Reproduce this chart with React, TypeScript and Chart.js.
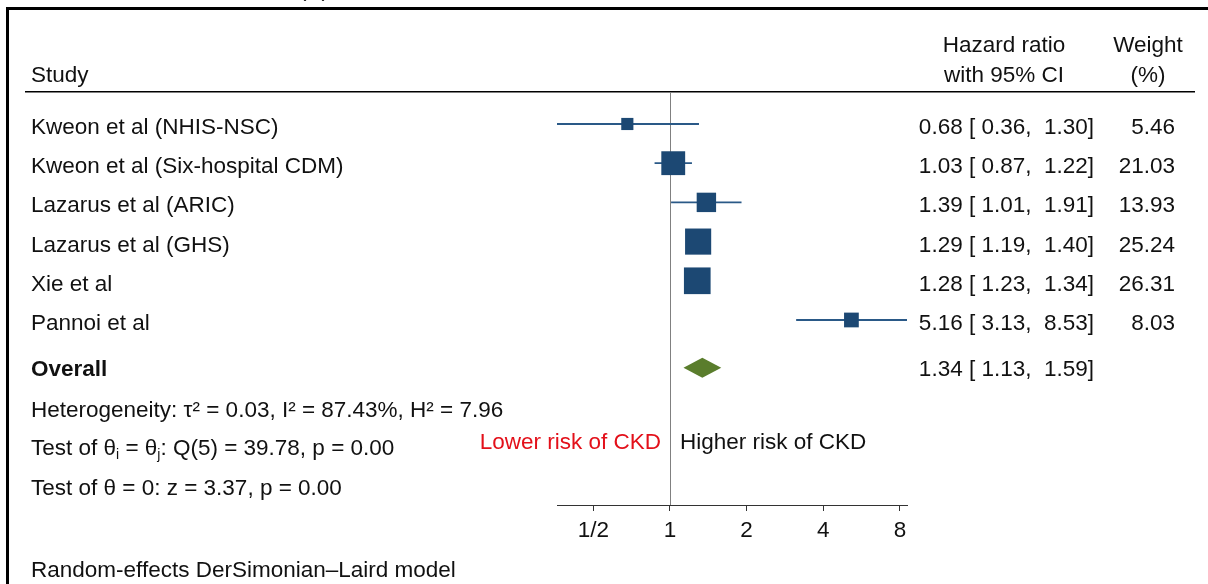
import React, { useEffect, useRef } from "react";
import { Chart, registerables } from "chart.js";

Chart.register(...registerables);

const studies = [
  "Kweon et al (NHIS-NSC)",
  "Kweon et al (Six-hospital CDM)",
  "Lazarus et al (ARIC)",
  "Lazarus et al (GHS)",
  "Xie et al",
  "Pannoi et al",
];
const hazardRatios = [0.68, 1.03, 1.39, 1.29, 1.28, 5.16];
const ciLow = [0.36, 0.87, 1.01, 1.19, 1.23, 3.13];
const ciHigh = [1.3, 1.22, 1.91, 1.4, 1.34, 8.53];
const weights = [5.46, 21.03, 13.93, 25.24, 26.31, 8.03];
const overallHR = 1.34;
const overallLow = 1.13;
const overallHigh = 1.59;
const tickValues = [0.5, 1, 2, 4, 8];
const tickLabels = ["1/2", "1", "2", "4", "8"];
const heterogeneityText = "Heterogeneity: τ² = 0.03, I² = 87.43%, H² = 7.96";
const testThetaText = ": Q(5) = 39.78, p = 0.00";
const testZeroText = "Test of θ = 0: z = 3.37, p = 0.00";
const modelText = "Random-effects DerSimonian–Laird model";

const FAMILY = '"Liberation Sans", Arial, Helvetica, sans-serif';
const FS = 22.5;
const FONT = `${FS}px ${FAMILY}`;
const BOLD = `bold ${FS}px ${FAMILY}`;
const SQUARE_COLOR = "#1c4873";
const LINE_COLOR = "#2a5987";
const DIAMOND_COLOR = "#5a7d2c";
const TEXT_COLOR = "#111111";

const fmt = (v: number) => v.toFixed(2);

const forestPlugin = {
  id: "forest",
  beforeDatasetsDraw(chart: any) {
    const { ctx, scales, chartArea } = chart;
    const x = scales.x;
    const y = scales.y;
    ctx.save();
    const x1 = Math.round(x.getPixelForValue(1)) + 0.5;
    ctx.strokeStyle = "#808080";
    ctx.lineWidth = 1;
    ctx.beginPath();
    ctx.moveTo(x1, chartArea.top + 1);
    ctx.lineTo(x1, chartArea.bottom);
    ctx.stroke();
    ctx.strokeStyle = LINE_COLOR;
    ctx.lineWidth = 1.8;
    studies.forEach((_, i) => {
      const py = y.getPixelForValue(i);
      ctx.beginPath();
      ctx.moveTo(x.getPixelForValue(ciLow[i]), py);
      ctx.lineTo(x.getPixelForValue(ciHigh[i]), py);
      ctx.stroke();
    });
    const oy = y.getPixelForValue(studies.length + 0.22);
    const half = 10;
    ctx.fillStyle = DIAMOND_COLOR;
    ctx.beginPath();
    ctx.moveTo(x.getPixelForValue(overallLow), oy);
    ctx.lineTo(x.getPixelForValue(overallHR), oy - half);
    ctx.lineTo(x.getPixelForValue(overallHigh), oy);
    ctx.lineTo(x.getPixelForValue(overallHR), oy + half);
    ctx.closePath();
    ctx.fill();
    ctx.restore();
  },
  afterDraw(chart: any) {
    const { ctx, scales } = chart;
    const y = scales.y;
    const text = (s: string, px: number, py: number, align: CanvasTextAlign = "left", font = FONT, color = TEXT_COLOR) => {
      ctx.font = font;
      ctx.fillStyle = color;
      ctx.textAlign = align;
      ctx.textBaseline = "alphabetic";
      ctx.fillText(s, px, py);
    };
    ctx.save();
    ctx.fillStyle = "#000";
    ctx.fillRect(6, 7, 1202, 3);
    ctx.fillRect(6, 7, 3, 577);
    text("(A)", 314, -4, "center");
    text("Study", 31, 82);
    text("Hazard ratio", 1004, 52, "center");
    text("with 95% CI", 1004, 82, "center");
    text("Weight", 1148, 52, "center");
    text("(%)", 1148, 82, "center");
    ctx.fillStyle = "#000";
    ctx.fillRect(25, 91, 1170, 1.5);
    studies.forEach((name, i) => {
      const by = y.getPixelForValue(i) + 10;
      text(name, 31, by);
      text(`${fmt(hazardRatios[i])} [ ${fmt(ciLow[i])},  ${fmt(ciHigh[i])}]`, 1094, by, "right");
      text(fmt(weights[i]), 1175, by, "right");
    });
    const ob = y.getPixelForValue(studies.length + 0.22) + 8;
    text("Overall", 31, ob, "left", BOLD);
    text(`${fmt(overallHR)} [ ${fmt(overallLow)},  ${fmt(overallHigh)}]`, 1094, ob, "right");
    text(heterogeneityText, 31, 417);
    let cx = 31;
    const by2 = 455;
    const seg = (s: string, sub = false) => {
      const f = sub ? `${Math.round(FS * 0.6)}px ${FAMILY}` : FONT;
      text(s, cx, sub ? by2 + 4 : by2, "left", f);
      ctx.font = f;
      cx += ctx.measureText(s).width;
    };
    seg("Test of θ");
    seg("i", true);
    seg(" = θ");
    seg("j", true);
    seg(testThetaText);
    text(testZeroText, 31, 495);
    text("Lower risk of CKD", 661, 449, "right", FONT, "#e3101a");
    text("Higher risk of CKD", 680, 449, "left");
    text(modelText, 31, 577);
    ctx.restore();
  },
};

export default function App() {
  const ref = useRef<HTMLCanvasElement | null>(null);
  useEffect(() => {
    if (!ref.current) return;
    const chart = new Chart(ref.current, {
      type: "scatter",
      data: {
        datasets: [
          {
            data: hazardRatios.map((v, i) => ({ x: v, y: i })),
            pointStyle: "rect",
            pointRadius: weights.map((w) => (5.2 * Math.sqrt(w)) / Math.SQRT2),
            backgroundColor: SQUARE_COLOR,
            borderWidth: 0,
            clip: false as any,
          },
        ],
      },
      options: {
        animation: false,
        responsive: false,
        devicePixelRatio: 1,
        events: [],
        layout: { autoPadding: false, padding: { left: 557, right: 301, top: 92, bottom: 39 } },
        plugins: { legend: { display: false }, tooltip: { enabled: false }, title: { display: false } },
        scales: {
          x: {
            type: "logarithmic",
            min: Math.min(...ciLow),
            max: Math.max(...ciHigh),
            afterBuildTicks: (scale: any) => {
              scale.ticks = tickValues.map((v) => ({ value: v, major: false }));
            },
            afterFit: (scale: any) => {
              scale.height = 40;
            },
            ticks: {
              callback: (_v: any, i: number) => tickLabels[i],
              font: { family: FAMILY, size: FS },
              color: TEXT_COLOR,
              padding: 6,
              maxRotation: 0,
              autoSkip: false,
            },
            grid: { drawOnChartArea: false, drawTicks: true, tickLength: 6, color: "#333" },
            border: { display: true, color: "#333", width: 1 },
          },
          y: {
            type: "linear",
            min: -0.816,
            max: 9.72,
            reverse: true,
            display: false,
          },
        },
      } as any,
      plugins: [forestPlugin],
    });
    return () => chart.destroy();
  }, []);
  return (
    <div style={{ position: "absolute", left: 0, top: 0, width: 1208, height: 584, background: "#fff" }}>
      <canvas ref={ref} width={1208} height={584} style={{ display: "block" }} />
    </div>
  );
}
